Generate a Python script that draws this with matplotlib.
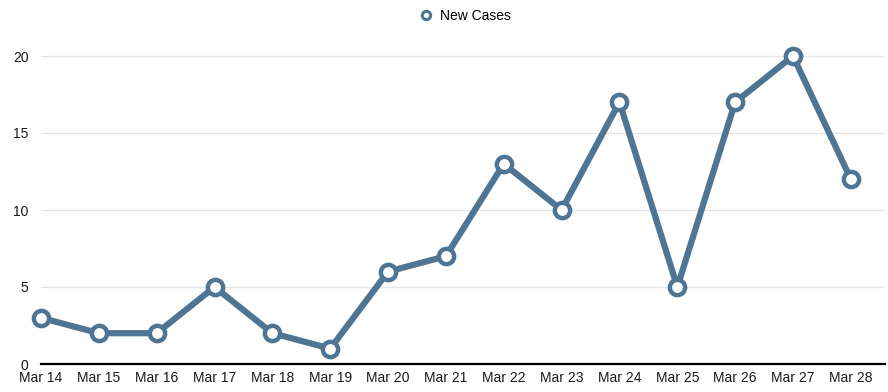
import matplotlib.pyplot as plt
from matplotlib.lines import Line2D

plt.rcParams['font.family'] = ['Liberation Sans', 'DejaVu Sans']

# dữ liệu
dates = ["Mar 14", "Mar 15", "Mar 16", "Mar 17", "Mar 18", "Mar 19", "Mar 20",
         "Mar 21", "Mar 22", "Mar 23", "Mar 24", "Mar 25", "Mar 26", "Mar 27", "Mar 28"]
new_cases = [3, 2, 2, 5, 2, 1, 6, 7, 13, 10, 17, 5, 17, 20, 12]

line_color = "#4f7594"

fig = plt.figure(figsize=(8.88, 3.92), dpi=100)
ax = fig.add_axes([41 / 888, 1 - 364 / 392, (885 - 41) / 888, (364 - 40) / 392])

x = list(range(len(dates)))
ax.plot(x, new_cases, color=line_color, lw=4.5, marker="o", ms=11,
        markerfacecolor="white", markeredgecolor=line_color, mew=3.2,
        clip_on=False, zorder=3)

ax.set_xlim(0, 14.59)
ax.set_ylim(0, 20 * (364 - 40) / (364 - 56))

ax.set_yticks([0, 5, 10, 15, 20])
ax.set_xticks(x)
ax.set_xticklabels(dates)
ax.tick_params(axis="both", length=0, labelsize=10, colors="#1a1a1a")
ax.tick_params(axis="y", pad=9)
ax.tick_params(axis="x", pad=5)
for lab in ax.get_yticklabels():
    lab.set_verticalalignment("center_baseline")

ax.grid(axis="y", color="#e6e6e6", lw=1)
ax.set_axisbelow(True)
for side in ["top", "right", "left"]:
    ax.spines[side].set_visible(False)
ax.spines["bottom"].set_color("black")
ax.spines["bottom"].set_linewidth(1.6)

handle = Line2D([], [], color=line_color, lw=0, marker="o", ms=6,
                markerfacecolor="white", markeredgecolor=line_color, mew=2.2)
fig.legend([handle], ["New Cases"], loc="center", bbox_to_anchor=(0.524, 1 - 16 / 392),
           frameon=False, fontsize=10, handletextpad=0.5, handlelength=1)

fig.savefig("out.png", dpi=100)
